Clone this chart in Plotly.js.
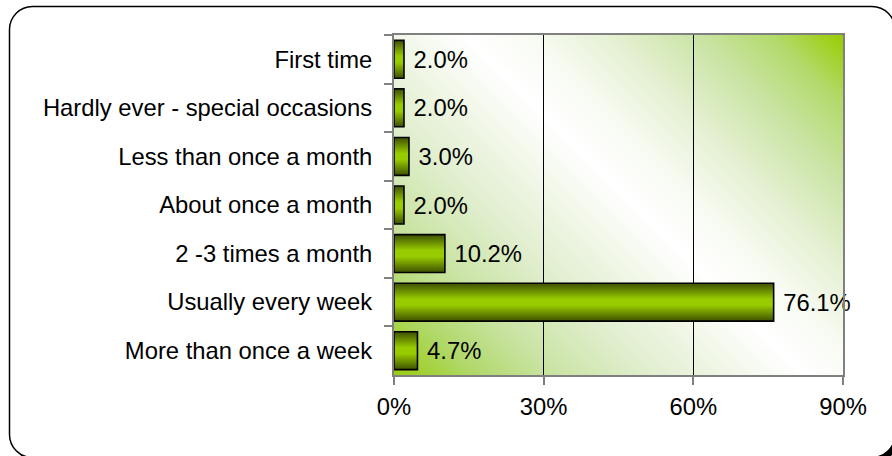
<!DOCTYPE html>
<html>
<head>
<meta charset="utf-8">
<script src="https://cdn.plot.ly/plotly-3.0.1.min.js"></script>
<style>
  html, body { margin: 0; padding: 0; width: 892px; height: 456px; overflow: hidden; background: #fff; }
  #frame { position: absolute; left: 0; top: 0; width: 892px; height: 456px; }
  #chart { position: absolute; left: 0; top: 0; width: 892px; height: 456px; }
</style>
</head>
<body>
<svg id="frame" width="892" height="456" viewBox="0 0 892 456" xmlns="http://www.w3.org/2000/svg">
  <g transform="translate(4,4)">
    <path d="M9.5,29.5 A23,23 0 0 1 32.5,6.5 L872,6.5 A23,23 0 0 1 895,29.5 L895,434.5 A23,23 0 0 1 872,457.5 L32.5,457.5 A23,23 0 0 1 9.5,434.5 Z" fill="#000"/>
  </g>
  <path d="M9.5,29.5 A23,23 0 0 1 32.5,6.5 L872,6.5 A23,23 0 0 1 895,29.5 L895,434.5 A23,23 0 0 1 872,457.5 L32.5,457.5 A23,23 0 0 1 9.5,434.5 Z" fill="#fff" stroke="#000" stroke-width="1.5"/>
</svg>
<div id="chart"></div>
<script>
// Data (top-to-bottom display order)
const categories = [
  "First time",
  "Hardly ever - special occasions",
  "Less than once a month",
  "About once a month",
  "2 -3 times a month",
  "Usually every week",
  "More than once a week"
];
const percents = [2.0, 2.0, 3.0, 2.0, 10.2, 76.1, 4.7];
const xTickVals = [0, 30, 60, 90];
const xTickText = ["0%", "30%", "60%", "90%"];

const FONT = "Liberation Sans, Arial, sans-serif";
const FS = 23.8;

// diagonal (45deg in pixel space) background gradient for the plot area
const W = 449, H = 340;
const bgSvg = '<svg xmlns="http://www.w3.org/2000/svg" width="' + W + '" height="' + H + '" viewBox="0 0 ' + W + ' ' + H + '" preserveAspectRatio="none">' +
  '<defs><linearGradient id="g" gradientUnits="userSpaceOnUse" x1="27.5" y1="367" x2="421.5" y2="-27">' +
  '<stop offset="0" stop-color="#99cc11"/>' +
  '<stop offset="0.1" stop-color="#b0d868"/>' +
  '<stop offset="0.2" stop-color="#c9e3a2"/>' +
  '<stop offset="0.32" stop-color="#e0eecd"/>' +
  '<stop offset="0.43" stop-color="#f1f7e8"/>' +
  '<stop offset="0.52" stop-color="#ffffff"/>' +
  '<stop offset="0.6" stop-color="#f8fbf3"/>' +
  '<stop offset="0.7" stop-color="#e6f1d4"/>' +
  '<stop offset="0.81" stop-color="#cbe4a6"/>' +
  '<stop offset="0.91" stop-color="#b3da6c"/>' +
  '<stop offset="1" stop-color="#99cc00"/>' +
  '</linearGradient></defs><rect width="' + W + '" height="' + H + '" fill="url(#g)"/></svg>';
const bgUri = "data:image/svg+xml;charset=utf-8," + encodeURIComponent(bgSvg);

const trace = {
  type: "bar",
  orientation: "h",
  y: categories,
  x: percents,
  width: 0.78,
  marker: { color: "#99cc00", line: { color: "#000000", width: 1.6 } },
  text: percents.map(v => "\u00a0" + v.toFixed(1) + "%"),
  texttemplate: "%{text}",
  textposition: "outside",
  constraintext: "none",
  cliponaxis: false,
  textfont: { family: FONT, size: FS, color: "#000" },
  hoverinfo: "skip"
};

const layout = {
  width: 892, height: 456,
  margin: { l: 394, r: 49, t: 35, b: 81, pad: 0 },
  paper_bgcolor: "rgba(0,0,0,0)",
  plot_bgcolor: "rgba(0,0,0,0)",
  showlegend: false,
  font: { family: FONT, size: FS, color: "#000" },
  xaxis: {
    range: [0, 90],
    tickvals: xTickVals,
    ticktext: xTickText,
    showgrid: true, gridcolor: "#000", gridwidth: 1,
    zeroline: false,
    showline: true, linecolor: "#808080", linewidth: 2, mirror: true,
    ticks: "outside", ticklen: 8, tickcolor: "#808080", tickwidth: 2,
    ticklabelstandoff: 1,
    tickfont: { family: FONT, size: FS, color: "#000" },
    fixedrange: true
  },
  yaxis: {
    type: "category",
    autorange: "reversed",
    tickson: "boundaries",
    showgrid: false,
    zeroline: false,
    showline: true, linecolor: "#808080", linewidth: 2, mirror: true,
    ticks: "outside", ticklen: 8, tickcolor: "#808080", tickwidth: 2,
    ticklabelstandoff: 15,
    tickfont: { family: FONT, size: FS, color: "#000" },
    fixedrange: true
  },
  images: [{
    source: bgUri, xref: "paper", yref: "paper",
    x: 0, y: 1, sizex: 1, sizey: 1, sizing: "stretch",
    xanchor: "left", yanchor: "top", layer: "below"
  }]
};

Plotly.newPlot("chart", [trace], layout, { staticPlot: true, displayModeBar: false }).then(function (gd) {
  const svg = gd.querySelector("svg.main-svg");
  const ns = "http://www.w3.org/2000/svg";
  let defs = svg.querySelector("defs");
  if (!defs) { defs = document.createElementNS(ns, "defs"); svg.insertBefore(defs, svg.firstChild); }
  const lg = document.createElementNS(ns, "linearGradient");
  lg.setAttribute("id", "barGrad");
  lg.setAttribute("x1", "0"); lg.setAttribute("y1", "0");
  lg.setAttribute("x2", "0"); lg.setAttribute("y2", "1");
  [["0", "#3d5000"], ["0.42", "#99cc00"], ["0.58", "#99cc00"], ["1", "#3d5000"]].forEach(function (s) {
    const st = document.createElementNS(ns, "stop");
    st.setAttribute("offset", s[0]); st.setAttribute("stop-color", s[1]);
    lg.appendChild(st);
  });
  defs.appendChild(lg);
  gd.querySelectorAll(".trace.bars .point path").forEach(function (p) {
    p.style.fill = "url(#barGrad)";
  });
});
</script>
</body>
</html>
